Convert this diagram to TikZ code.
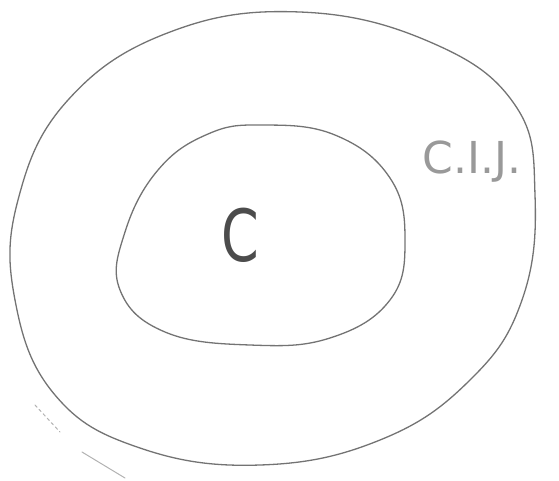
\documentclass[tikz,border=0pt]{standalone}
\usepackage{fontspec}
\setmainfont{DejaVu Sans}
\tikzset{
  ring/.style={draw=black!55, line width=1.3pt, line join=round},
  faint/.style={draw=black!30, line width=1pt, line cap=round},
  lbl/.style={text=black!70, inner sep=0pt}
}
\begin{document}
\begin{tikzpicture}[x=1pt,y=-1pt]
\useasboundingbox (0,0) rectangle (559,480);
\draw[ring] plot[smooth cycle, tension=0.7] coordinates {
  (300,12) (430,42) (515,105) (535,195) (522,300) (470,380) (380,440)
  (260,465) (140,448) (55,395) (15,300) (18,200) (68,100) (170,32)};
\draw[ring] plot[smooth cycle, tension=0.7] coordinates {
  (262,125) (335,135) (390,178) (405,240) (390,300) (330,338) (250,345)
  (165,332) (120,290) (125,232) (158,170) (208,134)};
\node[lbl, font=\fontsize{72}{72}\selectfont, xscale=0.75] (c) at (240,235) {C};
\node[lbl, text=black!40, font=\fontsize{44}{44}\selectfont] (cij) at (472,162) {C.I.J.};
\draw[faint, dashed] (35,405) -- (60,432);
\draw[faint] (82,452) -- (125,478);
\end{tikzpicture}
\end{document}
